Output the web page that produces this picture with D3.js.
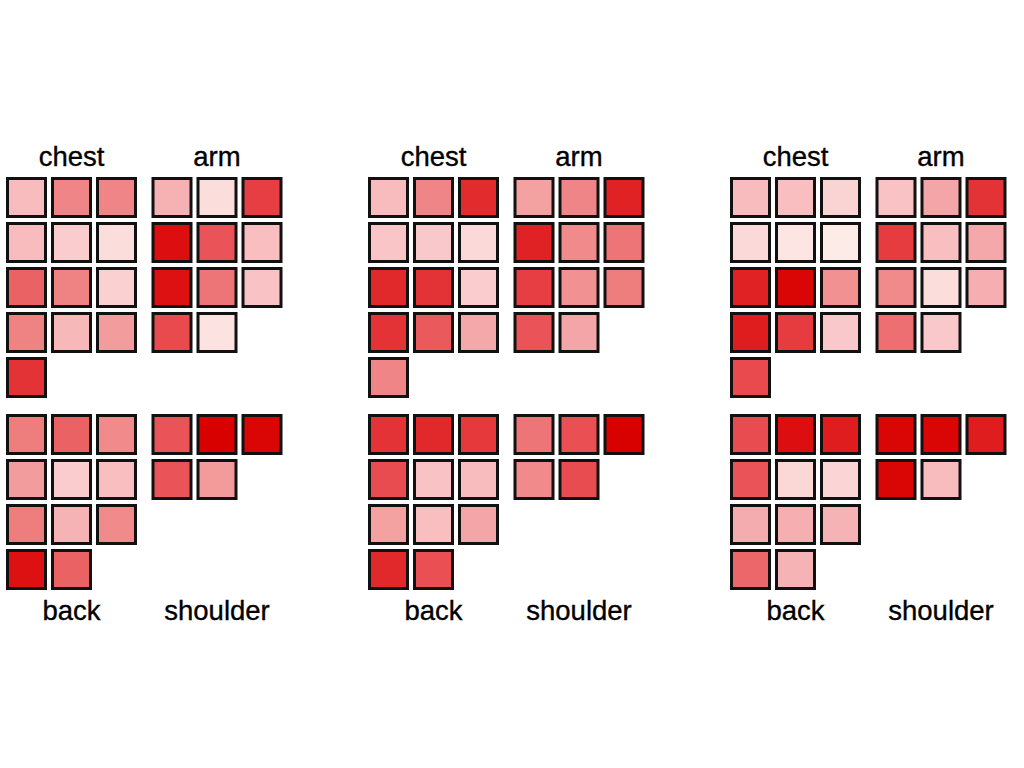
<!DOCTYPE html>
<html>
<head>
<meta charset="utf-8">
<script src="https://cdn.jsdelivr.net/npm/d3@7"></script>
<style>
  html, body { margin: 0; padding: 0; background: #fff; }
  svg { display: block; }
</style>
</head>
<body>
<svg id="chart" width="1024" height="768"></svg>
<script>
// ---- data ----
const panels = ["A", "B", "C"];
const groups = ["chest", "arm", "back", "shoulder"];

// intensities 0..1, row-major, 3 cells per row
const chestValues = [
  [0.28, 0.52, 0.52, 0.28, 0.20, 0.10, 0.65, 0.53, 0.18, 0.53, 0.30, 0.42, 0.82],
  [0.28, 0.52, 0.85, 0.24, 0.22, 0.13, 0.86, 0.82, 0.20, 0.82, 0.68, 0.37, 0.52],
  [0.28, 0.27, 0.16, 0.13, 0.06, 0.03, 0.88, 0.98, 0.47, 0.90, 0.79, 0.22, 0.74]
];
const armValues = [
  [0.33, 0.10, 0.78, 0.95, 0.70, 0.27, 0.94, 0.58, 0.25, 0.74, 0.08],
  [0.40, 0.52, 0.88, 0.88, 0.50, 0.58, 0.78, 0.47, 0.55, 0.70, 0.38],
  [0.25, 0.38, 0.82, 0.79, 0.27, 0.37, 0.50, 0.10, 0.34, 0.60, 0.22]
];
const backValues = [
  [0.55, 0.65, 0.50, 0.42, 0.20, 0.27, 0.55, 0.32, 0.50, 0.94, 0.65],
  [0.82, 0.86, 0.80, 0.73, 0.25, 0.28, 0.40, 0.27, 0.38, 0.86, 0.72],
  [0.73, 0.95, 0.90, 0.70, 0.14, 0.15, 0.35, 0.34, 0.32, 0.63, 0.32]
];
const shoulderValues = [
  [0.70, 1.00, 0.98, 0.70, 0.43],
  [0.58, 0.72, 1.00, 0.50, 0.73],
  [0.98, 0.98, 0.90, 0.98, 0.28]
];

const valuesByGroup = { chest: chestValues, arm: armValues, back: backValues, shoulder: shoulderValues };

// ---- layout ----
const svg = d3.select("#chart");
const cols = 3;
const pitch = 45, stroke = 3, cell = 38;
const panelX = d3.scalePoint().domain(panels).range([6, 730]);
const groupPos = {
  chest:    { dx: 0,     top: 177, labelY: 166 },
  arm:      { dx: 145.5, top: 177, labelY: 166 },
  back:     { dx: 0,     top: 414, labelY: 620 },
  shoulder: { dx: 145.5, top: 414, labelY: 620 }
};
const colScale = d3.scaleLinear().domain([0, 1]).range([0, pitch]);
const rowScale = d3.scaleLinear().domain([0, 1]).range([0, pitch]);
const color = d3.scaleLinear()
  .domain([0, 0.25, 0.5, 0.75, 1])
  .range(["#fdf0ec", "#f9c3c5", "#f08a8b", "#e8474b", "#d90000"])
  .clamp(true);

panels.forEach((p, pi) => {
  const px = panelX(p);
  groups.forEach(gname => {
    const gp = groupPos[gname];
    const vals = valuesByGroup[gname][pi];
    const g = svg.append("g")
      .attr("transform", `translate(${px + gp.dx},${gp.top})`);
    g.selectAll("rect")
      .data(vals)
      .join("rect")
      .attr("x", (d, i) => colScale(i % cols) + stroke / 2)
      .attr("y", (d, i) => rowScale(Math.floor(i / cols)) + stroke / 2)
      .attr("width", cell)
      .attr("height", cell)
      .attr("fill", d => color(d))
      .attr("stroke", "#111")
      .attr("stroke-width", stroke);
    const groupWidth = colScale(cols - 1) + cell + stroke;
    svg.append("text")
      .attr("x", px + gp.dx + groupWidth / 2)
      .attr("y", gp.labelY)
      .attr("text-anchor", "middle")
      .attr("font-family", "'Liberation Sans', Arial, sans-serif")
      .attr("font-size", 27.5)
      .attr("fill", "#000")
      .attr("stroke", "#000")
      .attr("stroke-width", 0.35)
      .text(gname);
  });
});
</script>
</body>
</html>
